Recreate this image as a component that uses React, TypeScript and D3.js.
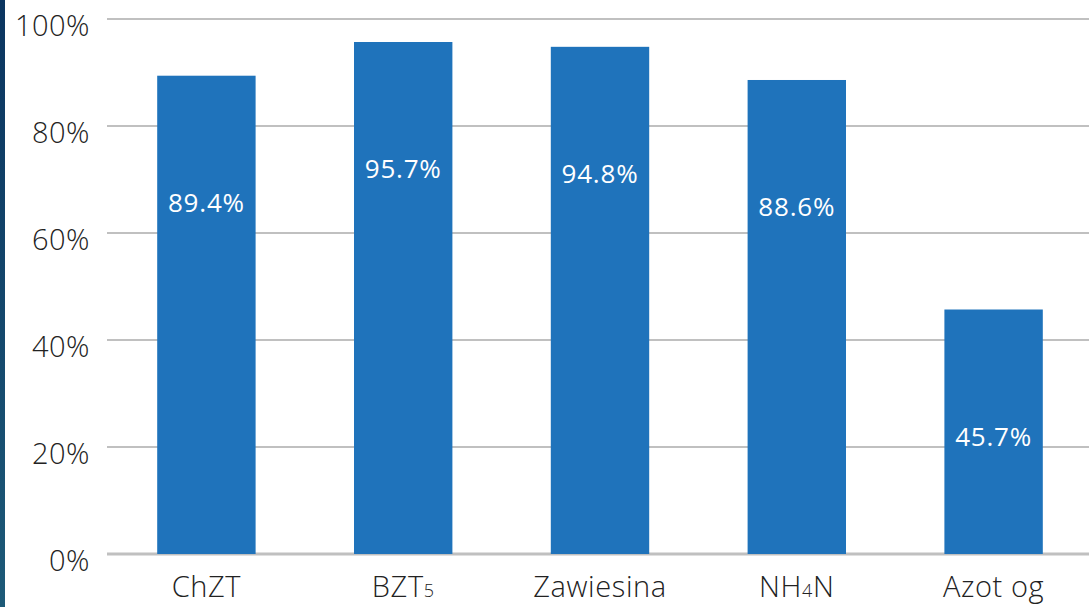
import * as d3 from 'd3';
import { useEffect, useRef } from 'react';

const categories = ['ChZT', 'BZT5', 'Zawiesina', 'NH4N', 'Azot og'];
const values = [89.4, 95.7, 94.8, 88.6, 45.7];
const yTicks = [0, 20, 40, 60, 80, 100];

// label parts: [main, subscript, rest]
const labelParts: Record<string, [string, string, string]> = {
  BZT5: ['BZT', '5', ''],
  NH4N: ['NH', '4', 'N'],
};

function App() {
  const ref = useRef<SVGSVGElement>(null);

  useEffect(() => {
    const w = 1089, h = 607;
    const svg = d3.select(ref.current);
    svg.selectAll('*').remove();

    const font = '"Open Sans", Lato, sans-serif';

    const x = d3.scaleBand<string>()
      .domain(categories)
      .range([108, 1092])
      .paddingInner(0.5)
      .paddingOuter(0.25);

    const y = d3.scaleLinear().domain([0, 100]).range([554, 19]);

    // dark strip at the left edge (background image)
    const grad = svg.append('defs').append('linearGradient')
      .attr('id', 'strip').attr('x1', 0).attr('x2', 0).attr('y1', 0).attr('y2', 1);
    grad.append('stop').attr('offset', '0%').attr('stop-color', '#0b3560');
    grad.append('stop').attr('offset', '60%').attr('stop-color', '#154a6e');
    grad.append('stop').attr('offset', '100%').attr('stop-color', '#1d5a78');
    svg.append('rect').attr('x', 0).attr('y', 0).attr('width', 5).attr('height', h)
      .attr('fill', 'url(#strip)');

    // gridlines
    svg.append('g').selectAll('line')
      .data(yTicks)
      .join('line')
      .attr('x1', 107).attr('x2', w)
      .attr('y1', d => y(d)).attr('y2', d => y(d))
      .attr('stroke', '#c0c0c0')
      .attr('stroke-width', d => (d === 0 ? 3 : 2));

    // y tick labels (sit a little below their gridline)
    svg.append('g').selectAll('text')
      .data(yTicks)
      .join('text')
      .attr('x', 90)
      .attr('y', d => y(d) + 17)
      .attr('text-anchor', 'end')
      .attr('font-family', font)
      .attr('font-size', 29)
      .attr('font-weight', 300)
      .attr('letter-spacing', 0.5)
      .attr('fill', '#222')
      .text(d => d + '%');

    // bars
    svg.append('g').selectAll('rect')
      .data(values)
      .join('rect')
      .attr('x', (_, i) => x(categories[i])!)
      .attr('y', d => y(d))
      .attr('width', x.bandwidth())
      .attr('height', d => y(0) - y(d))
      .attr('fill', '#1f73bb');

    // value labels
    svg.append('g').selectAll('text')
      .data(values)
      .join('text')
      .attr('x', (_, i) => x(categories[i])! + x.bandwidth() / 2)
      .attr('y', d => y(d) + 127)
      .attr('dy', '0.36em')
      .attr('text-anchor', 'middle')
      .attr('font-family', font)
      .attr('font-size', 26)
      .attr('font-weight', 500)
      .attr('letter-spacing', 0.8)
      .attr('fill', '#fff')
      .text(d => d.toFixed(1) + '%');

    // category labels
    const cat = svg.append('g').selectAll('text')
      .data(categories)
      .join('text')
      .attr('x', d => x(d)! + x.bandwidth() / 2)
      .attr('y', 597)
      .attr('text-anchor', 'middle')
      .attr('font-family', font)
      .attr('font-size', 29)
      .attr('font-weight', 300)
      .attr('letter-spacing', 0.6)
      .attr('fill', '#222');

    cat.each(function (d) {
      const t = d3.select(this);
      const parts = labelParts[d];
      if (!parts) {
        t.text(d);
        return;
      }
      t.append('tspan').text(parts[0]);
      t.append('tspan').attr('font-size', 18).text(parts[1]);
      if (parts[2]) t.append('tspan').text(parts[2]);
    });
  }, []);

  return (
    <svg ref={ref} width={1089} height={607}
      style={{ position: 'absolute', left: 0, top: 0, background: '#fff' }} />
  );
}

export default App;
